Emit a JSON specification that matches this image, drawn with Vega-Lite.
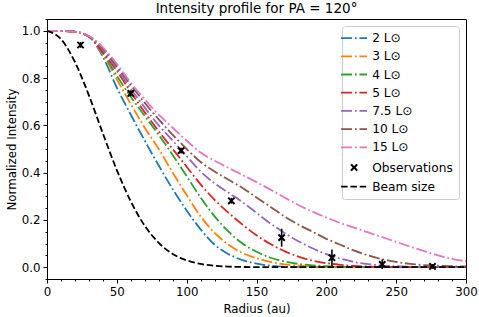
{
  "$schema": "https://vega.github.io/schema/vega-lite/v6.json",
  "autosize": {"type": "none"},
  "width": 419,
  "height": 260,
  "padding": {"left": 47, "top": 19, "right": 13, "bottom": 38},
  "config": {
    "font": "DejaVu Sans",
    "view": {"stroke": "black", "strokeWidth": 1},
    "scale": {"continuousPadding": 0},
    "axis": {"grid": false, "labelFlush": false, "domainColor": "black", "tickColor": "black", "labelColor": "black", "titleColor": "black", "labelFontSize": 11.8, "titleFontSize": 11.8, "titleFontWeight": "normal", "tickSize": 4, "labelPadding": 3, "domainWidth": 1, "tickWidth": 1}
  },
  "title": {"text": "Intensity profile for PA = 120°", "fontSize": 13.5, "fontWeight": "normal", "offset": 3, "color": "black"},
  "datasets": {
    "obs": [
      {"r": 24, "I": 0.94, "lo": 0.928, "hi": 0.952},
      {"r": 60, "I": 0.735, "lo": 0.723, "hi": 0.747},
      {"r": 96, "I": 0.493, "lo": 0.481, "hi": 0.505},
      {"r": 132, "I": 0.281, "lo": 0.269, "hi": 0.293},
      {"r": 168, "I": 0.125, "lo": 0.087, "hi": 0.163},
      {"r": 204, "I": 0.04, "lo": 0.005, "hi": 0.075},
      {"r": 240, "I": 0.012, "lo": -0.008, "hi": 0.032},
      {"r": 276, "I": 0.003, "lo": -0.007, "hi": 0.013}
    ],
    "models": [
      {"s":"2 L⊙","r":0,"I":1},{"s":"2 L⊙","r":10,"I":0.999},{"s":"2 L⊙","r":20,"I":0.995},{"s":"2 L⊙","r":30,"I":0.975},{"s":"2 L⊙","r":40,"I":0.89},{"s":"2 L⊙","r":50,"I":0.76},{"s":"2 L⊙","r":60,"I":0.645},{"s":"2 L⊙","r":70,"I":0.535},{"s":"2 L⊙","r":80,"I":0.43},{"s":"2 L⊙","r":90,"I":0.33},{"s":"2 L⊙","r":100,"I":0.24},{"s":"2 L⊙","r":110,"I":0.16},{"s":"2 L⊙","r":120,"I":0.095},{"s":"2 L⊙","r":130,"I":0.055},{"s":"2 L⊙","r":140,"I":0.03},{"s":"2 L⊙","r":150,"I":0.015},{"s":"2 L⊙","r":160,"I":0.006},{"s":"2 L⊙","r":170,"I":0.002},{"s":"2 L⊙","r":180,"I":0.001},{"s":"2 L⊙","r":190,"I":0},{"s":"2 L⊙","r":200,"I":0},{"s":"2 L⊙","r":210,"I":0},{"s":"2 L⊙","r":220,"I":0},{"s":"2 L⊙","r":230,"I":0},{"s":"2 L⊙","r":240,"I":0},{"s":"2 L⊙","r":250,"I":0},{"s":"2 L⊙","r":260,"I":0},{"s":"2 L⊙","r":270,"I":0},{"s":"2 L⊙","r":280,"I":0},{"s":"2 L⊙","r":290,"I":0},{"s":"2 L⊙","r":300,"I":0},
      {"s":"3 L⊙","r":0,"I":1},{"s":"3 L⊙","r":10,"I":0.999},{"s":"3 L⊙","r":20,"I":0.995},{"s":"3 L⊙","r":30,"I":0.976},{"s":"3 L⊙","r":40,"I":0.9},{"s":"3 L⊙","r":50,"I":0.795},{"s":"3 L⊙","r":60,"I":0.69},{"s":"3 L⊙","r":70,"I":0.59},{"s":"3 L⊙","r":80,"I":0.5},{"s":"3 L⊙","r":90,"I":0.4},{"s":"3 L⊙","r":100,"I":0.305},{"s":"3 L⊙","r":110,"I":0.215},{"s":"3 L⊙","r":120,"I":0.145},{"s":"3 L⊙","r":130,"I":0.095},{"s":"3 L⊙","r":140,"I":0.06},{"s":"3 L⊙","r":150,"I":0.038},{"s":"3 L⊙","r":160,"I":0.022},{"s":"3 L⊙","r":170,"I":0.012},{"s":"3 L⊙","r":180,"I":0.006},{"s":"3 L⊙","r":190,"I":0.003},{"s":"3 L⊙","r":200,"I":0.001},{"s":"3 L⊙","r":210,"I":0},{"s":"3 L⊙","r":220,"I":0},{"s":"3 L⊙","r":230,"I":0},{"s":"3 L⊙","r":240,"I":0},{"s":"3 L⊙","r":250,"I":0},{"s":"3 L⊙","r":260,"I":0},{"s":"3 L⊙","r":270,"I":0},{"s":"3 L⊙","r":280,"I":0},{"s":"3 L⊙","r":290,"I":0},{"s":"3 L⊙","r":300,"I":0},
      {"s":"4 L⊙","r":0,"I":1},{"s":"4 L⊙","r":10,"I":0.999},{"s":"4 L⊙","r":20,"I":0.995},{"s":"4 L⊙","r":30,"I":0.976},{"s":"4 L⊙","r":40,"I":0.905},{"s":"4 L⊙","r":50,"I":0.81},{"s":"4 L⊙","r":60,"I":0.72},{"s":"4 L⊙","r":70,"I":0.64},{"s":"4 L⊙","r":80,"I":0.56},{"s":"4 L⊙","r":90,"I":0.475},{"s":"4 L⊙","r":100,"I":0.385},{"s":"4 L⊙","r":110,"I":0.295},{"s":"4 L⊙","r":120,"I":0.215},{"s":"4 L⊙","r":130,"I":0.15},{"s":"4 L⊙","r":140,"I":0.1},{"s":"4 L⊙","r":150,"I":0.065},{"s":"4 L⊙","r":160,"I":0.04},{"s":"4 L⊙","r":170,"I":0.024},{"s":"4 L⊙","r":180,"I":0.014},{"s":"4 L⊙","r":190,"I":0.008},{"s":"4 L⊙","r":200,"I":0.004},{"s":"4 L⊙","r":210,"I":0.002},{"s":"4 L⊙","r":220,"I":0.001},{"s":"4 L⊙","r":230,"I":0},{"s":"4 L⊙","r":240,"I":0},{"s":"4 L⊙","r":250,"I":0},{"s":"4 L⊙","r":260,"I":0},{"s":"4 L⊙","r":270,"I":0},{"s":"4 L⊙","r":280,"I":0},{"s":"4 L⊙","r":290,"I":0},{"s":"4 L⊙","r":300,"I":0},
      {"s":"5 L⊙","r":0,"I":1},{"s":"5 L⊙","r":10,"I":0.999},{"s":"5 L⊙","r":20,"I":0.995},{"s":"5 L⊙","r":30,"I":0.976},{"s":"5 L⊙","r":40,"I":0.91},{"s":"5 L⊙","r":50,"I":0.83},{"s":"5 L⊙","r":60,"I":0.74},{"s":"5 L⊙","r":70,"I":0.655},{"s":"5 L⊙","r":80,"I":0.575},{"s":"5 L⊙","r":90,"I":0.5},{"s":"5 L⊙","r":100,"I":0.425},{"s":"5 L⊙","r":110,"I":0.35},{"s":"5 L⊙","r":120,"I":0.285},{"s":"5 L⊙","r":130,"I":0.23},{"s":"5 L⊙","r":140,"I":0.18},{"s":"5 L⊙","r":150,"I":0.135},{"s":"5 L⊙","r":160,"I":0.098},{"s":"5 L⊙","r":170,"I":0.068},{"s":"5 L⊙","r":180,"I":0.045},{"s":"5 L⊙","r":190,"I":0.028},{"s":"5 L⊙","r":200,"I":0.017},{"s":"5 L⊙","r":210,"I":0.01},{"s":"5 L⊙","r":220,"I":0.005},{"s":"5 L⊙","r":230,"I":0.003},{"s":"5 L⊙","r":240,"I":0.001},{"s":"5 L⊙","r":250,"I":0},{"s":"5 L⊙","r":260,"I":0},{"s":"5 L⊙","r":270,"I":0},{"s":"5 L⊙","r":280,"I":0},{"s":"5 L⊙","r":290,"I":0},{"s":"5 L⊙","r":300,"I":0},
      {"s":"7.5 L⊙","r":0,"I":1},{"s":"7.5 L⊙","r":10,"I":0.999},{"s":"7.5 L⊙","r":20,"I":0.996},{"s":"7.5 L⊙","r":30,"I":0.977},{"s":"7.5 L⊙","r":40,"I":0.92},{"s":"7.5 L⊙","r":50,"I":0.84},{"s":"7.5 L⊙","r":60,"I":0.755},{"s":"7.5 L⊙","r":70,"I":0.675},{"s":"7.5 L⊙","r":80,"I":0.6},{"s":"7.5 L⊙","r":90,"I":0.535},{"s":"7.5 L⊙","r":100,"I":0.47},{"s":"7.5 L⊙","r":110,"I":0.405},{"s":"7.5 L⊙","r":120,"I":0.355},{"s":"7.5 L⊙","r":130,"I":0.315},{"s":"7.5 L⊙","r":140,"I":0.275},{"s":"7.5 L⊙","r":150,"I":0.23},{"s":"7.5 L⊙","r":160,"I":0.185},{"s":"7.5 L⊙","r":170,"I":0.145},{"s":"7.5 L⊙","r":180,"I":0.11},{"s":"7.5 L⊙","r":190,"I":0.08},{"s":"7.5 L⊙","r":200,"I":0.055},{"s":"7.5 L⊙","r":210,"I":0.036},{"s":"7.5 L⊙","r":220,"I":0.022},{"s":"7.5 L⊙","r":230,"I":0.013},{"s":"7.5 L⊙","r":240,"I":0.007},{"s":"7.5 L⊙","r":250,"I":0.004},{"s":"7.5 L⊙","r":260,"I":0.002},{"s":"7.5 L⊙","r":270,"I":0.001},{"s":"7.5 L⊙","r":280,"I":0},{"s":"7.5 L⊙","r":290,"I":0},{"s":"7.5 L⊙","r":300,"I":0},
      {"s":"10 L⊙","r":0,"I":1},{"s":"10 L⊙","r":10,"I":0.999},{"s":"10 L⊙","r":20,"I":0.996},{"s":"10 L⊙","r":30,"I":0.977},{"s":"10 L⊙","r":40,"I":0.925},{"s":"10 L⊙","r":50,"I":0.85},{"s":"10 L⊙","r":60,"I":0.77},{"s":"10 L⊙","r":70,"I":0.695},{"s":"10 L⊙","r":80,"I":0.625},{"s":"10 L⊙","r":90,"I":0.56},{"s":"10 L⊙","r":100,"I":0.5},{"s":"10 L⊙","r":110,"I":0.445},{"s":"10 L⊙","r":120,"I":0.405},{"s":"10 L⊙","r":130,"I":0.37},{"s":"10 L⊙","r":140,"I":0.335},{"s":"10 L⊙","r":150,"I":0.295},{"s":"10 L⊙","r":160,"I":0.255},{"s":"10 L⊙","r":170,"I":0.215},{"s":"10 L⊙","r":180,"I":0.18},{"s":"10 L⊙","r":190,"I":0.15},{"s":"10 L⊙","r":200,"I":0.12},{"s":"10 L⊙","r":210,"I":0.095},{"s":"10 L⊙","r":220,"I":0.07},{"s":"10 L⊙","r":230,"I":0.05},{"s":"10 L⊙","r":240,"I":0.034},{"s":"10 L⊙","r":250,"I":0.022},{"s":"10 L⊙","r":260,"I":0.014},{"s":"10 L⊙","r":270,"I":0.009},{"s":"10 L⊙","r":280,"I":0.006},{"s":"10 L⊙","r":290,"I":0.004},{"s":"10 L⊙","r":300,"I":0.003},
      {"s":"15 L⊙","r":0,"I":1},{"s":"15 L⊙","r":10,"I":0.999},{"s":"15 L⊙","r":20,"I":0.996},{"s":"15 L⊙","r":30,"I":0.978},{"s":"15 L⊙","r":40,"I":0.93},{"s":"15 L⊙","r":50,"I":0.86},{"s":"15 L⊙","r":60,"I":0.78},{"s":"15 L⊙","r":70,"I":0.71},{"s":"15 L⊙","r":80,"I":0.645},{"s":"15 L⊙","r":90,"I":0.59},{"s":"15 L⊙","r":100,"I":0.535},{"s":"15 L⊙","r":110,"I":0.485},{"s":"15 L⊙","r":120,"I":0.45},{"s":"15 L⊙","r":130,"I":0.42},{"s":"15 L⊙","r":140,"I":0.39},{"s":"15 L⊙","r":150,"I":0.36},{"s":"15 L⊙","r":160,"I":0.328},{"s":"15 L⊙","r":170,"I":0.295},{"s":"15 L⊙","r":180,"I":0.263},{"s":"15 L⊙","r":190,"I":0.235},{"s":"15 L⊙","r":200,"I":0.21},{"s":"15 L⊙","r":210,"I":0.187},{"s":"15 L⊙","r":220,"I":0.167},{"s":"15 L⊙","r":230,"I":0.147},{"s":"15 L⊙","r":240,"I":0.127},{"s":"15 L⊙","r":250,"I":0.107},{"s":"15 L⊙","r":260,"I":0.087},{"s":"15 L⊙","r":270,"I":0.068},{"s":"15 L⊙","r":280,"I":0.05},{"s":"15 L⊙","r":290,"I":0.035},{"s":"15 L⊙","r":300,"I":0.025},
      {"s":"Beam size","r":0,"I":1},{"s":"Beam size","r":10,"I":0.965},{"s":"Beam size","r":20,"I":0.868},{"s":"Beam size","r":30,"I":0.727},{"s":"Beam size","r":40,"I":0.566},{"s":"Beam size","r":50,"I":0.411},{"s":"Beam size","r":60,"I":0.278},{"s":"Beam size","r":70,"I":0.175},{"s":"Beam size","r":80,"I":0.103},{"s":"Beam size","r":90,"I":0.056},{"s":"Beam size","r":100,"I":0.029},{"s":"Beam size","r":110,"I":0.0136},{"s":"Beam size","r":120,"I":0.006},{"s":"Beam size","r":130,"I":0.0024},{"s":"Beam size","r":140,"I":0.0009},{"s":"Beam size","r":150,"I":0.0003},{"s":"Beam size","r":160,"I":0.0001},{"s":"Beam size","r":170,"I":0},{"s":"Beam size","r":180,"I":0},{"s":"Beam size","r":190,"I":0},{"s":"Beam size","r":200,"I":0},{"s":"Beam size","r":210,"I":0},{"s":"Beam size","r":220,"I":0},{"s":"Beam size","r":230,"I":0},{"s":"Beam size","r":240,"I":0},{"s":"Beam size","r":250,"I":0},{"s":"Beam size","r":260,"I":0},{"s":"Beam size","r":270,"I":0},{"s":"Beam size","r":280,"I":0},{"s":"Beam size","r":290,"I":0},{"s":"Beam size","r":300,"I":0}
    ]
  },
  "resolve": {"axis": {"x": "independent", "y": "independent"}},
  "layer": [
    {
      "data": {"name": "models"},
      "mark": {"type": "line", "interpolate": "monotone", "strokeWidth": 1.8, "clip": true},
      "encoding": {
        "x": {"field": "r", "type": "quantitative", "scale": {"domain": [0, 300], "nice": false, "zero": false, "padding": 0},
              "axis": {"orient": "bottom", "values": [0, 50, 100, 150, 200, 250, 300], "title": "Radius (au)", "titlePadding": 6}},
        "y": {"field": "I", "type": "quantitative", "scale": {"domain": [-0.05, 1.05], "nice": false, "zero": false, "padding": 0},
              "axis": {"orient": "left", "values": [0, 0.2, 0.4, 0.6, 0.8, 1.0], "format": ".1f", "title": "Normalized Intensity", "titlePadding": 4}},
        "detail": {"field": "s"},
        "color": {"field": "s", "type": "nominal",
          "scale": {"domain": ["2 L⊙", "3 L⊙", "4 L⊙", "5 L⊙", "7.5 L⊙", "10 L⊙", "15 L⊙", "Observations", "Beam size"],
                    "range": ["#1f77b4", "#ff7f0e", "#2ca02c", "#d62728", "#9467bd", "#8c564b", "#e377c2", "#000000", "#000000"]},
          "legend": {"title": null, "orient": "top-right", "offset": 7, "padding": 6, "strokeColor": "#cccccc", "fillColor": "white", "cornerRadius": 3,
                     "labelFontSize": 12.2, "labelColor": "black", "labelOffset": 12, "symbolSize": 676, "symbolStrokeWidth": 1.8, "rowPadding": 5.2, "symbolType": "stroke",
                     "encode": {"symbols": {"update": {
                        "shape": {"signal": "datum.value === 'Observations' ? 'M-1,-1L1,1M1,-1L-1,1' : 'stroke'"},
                        "size": {"signal": "datum.value === 'Observations' ? 40 : 676"},
                        "fill": {"value": "transparent"},
                        "strokeWidth": {"signal": "datum.value === 'Observations' ? 2 : 1.8"}}}}}},
        "strokeDash": {"field": "s", "type": "nominal",
          "scale": {"domain": ["2 L⊙", "3 L⊙", "4 L⊙", "5 L⊙", "7.5 L⊙", "10 L⊙", "15 L⊙", "Observations", "Beam size"],
                    "range": [[11, 2.8, 1.8, 2.8], [11, 2.8, 1.8, 2.8], [11, 2.8, 1.8, 2.8], [11, 2.8, 1.8, 2.8], [11, 2.8, 1.8, 2.8], [11, 2.8, 1.8, 2.8], [11, 2.8, 1.8, 2.8], [1, 0], [6.5, 2.8]]},
          "legend": {"title": null}}
      }
    },
    {
      "data": {"name": "obs"},
      "mark": {"type": "rule", "color": "black", "strokeWidth": 1.6},
      "encoding": {
        "x": {"field": "r", "type": "quantitative", "scale": {"domain": [0, 300], "nice": false, "zero": false, "padding": 0},
              "axis": {"orient": "bottom", "values": [10,20,30,40,60,70,80,90,110,120,130,140,160,170,180,190,210,220,230,240,260,270,280,290], "labels": false, "domain": false, "tickSize": 2, "title": null}},
        "y": {"field": "lo", "type": "quantitative", "scale": {"domain": [-0.05, 1.05], "nice": false, "zero": false, "padding": 0},
              "axis": {"orient": "left", "values": [-0.05,0.05,0.1,0.15,0.25,0.3,0.35,0.45,0.5,0.55,0.65,0.7,0.75,0.85,0.9,0.95,1.05], "labels": false, "domain": false, "tickSize": 2, "title": null}},
        "y2": {"field": "hi"}
      }
    },
    {
      "data": {"name": "obs"},
      "mark": {"type": "point", "shape": "M-1,-1L1,1M1,-1L-1,1", "filled": false, "color": "black", "strokeWidth": 2, "size": 40, "opacity": 1},
      "encoding": {
        "x": {"field": "r", "type": "quantitative", "scale": {"domain": [0, 300], "nice": false, "zero": false, "padding": 0}, "axis": null},
        "y": {"field": "I", "type": "quantitative", "scale": {"domain": [-0.05, 1.05], "nice": false, "zero": false, "padding": 0}, "axis": null}
      }
    }
  ]
}
